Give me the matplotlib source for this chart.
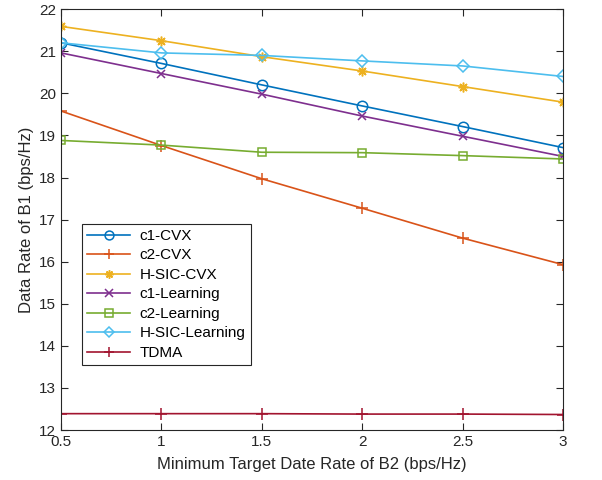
import matplotlib.pyplot as plt

plt.rcParams['font.family'] = ['Liberation Sans', 'DejaVu Sans']

# x values (minimum target data rate of B2)
x = [0.5, 1, 1.5, 2, 2.5, 3]

# data rate of B1 for each scheme
c1_cvx = [21.20, 20.71, 20.20, 19.70, 19.21, 18.71]
c2_cvx = [19.58, 18.76, 17.97, 17.27, 16.56, 15.93]
hsic_cvx = [21.59, 21.25, 20.87, 20.53, 20.16, 19.79]
c1_learn = [20.96, 20.47, 19.98, 19.46, 18.98, 18.50]
c2_learn = [18.88, 18.77, 18.60, 18.59, 18.52, 18.44]
hsic_learn = [21.20, 20.96, 20.90, 20.77, 20.65, 20.40]
tdma = [12.39, 12.39, 12.39, 12.38, 12.38, 12.37]

xticks = [0.5, 1, 1.5, 2, 2.5, 3]
yticks = list(range(12, 23))

fig = plt.figure(figsize=(6.02, 4.8), dpi=100)
ax = fig.add_axes([0.1013, 0.104, 0.834, 0.877])

lw = 1.2
ax.plot(x, c1_cvx, 'o-', color='#0072BD', label='c1-CVX', lw=lw, ms=7.5, mfc='none', mew=1.1)
ax.plot(x, c2_cvx, '+-', color='#D95319', label='c2-CVX', lw=lw, ms=8, mew=1.1)
ax.plot(x, hsic_cvx, '-', marker=(8, 2, 0), color='#EDB120', label='H-SIC-CVX', lw=lw, ms=7, mew=1.1)
ax.plot(x, c1_learn, 'x-', color='#7E2F8E', label='c1-Learning', lw=lw, ms=6, mew=1.1)
ax.plot(x, c2_learn, 's-', color='#77AC30', label='c2-Learning', lw=lw, ms=6, mfc='none', mew=1.1)
ax.plot(x, hsic_learn, 'D-', color='#4DBEEE', label='H-SIC-Learning', lw=lw, ms=6, mfc='none', mew=1.1)
ax.plot(x, tdma, '+-', color='#A2142F', label='TDMA', lw=lw, ms=8, mew=1.1)

ax.set_xlim(0.5, 3)
ax.set_ylim(12, 22)
ax.set_xticks(xticks)
ax.set_xticklabels(['0.5', '1', '1.5', '2', '2.5', '3'])
ax.set_yticks(yticks)
ax.tick_params(direction='in', top=True, right=True, labelsize=11, colors='#262626', length=5)
for s in ax.spines.values():
    s.set_color('#262626')
    s.set_linewidth(0.8)

ax.set_xlabel('Minimum Target Date Rate of B2 (bps/Hz)', fontsize=12, color='#262626', labelpad=6)
ax.set_ylabel('Data Rate of B1 (bps/Hz)', fontsize=12, color='#262626')

leg = ax.legend(loc='lower left', bbox_to_anchor=(0.042, 0.154), borderaxespad=0,
                fontsize=11, fancybox=False, framealpha=1, edgecolor='#262626',
                handlelength=2.8, handletextpad=0.6, labelspacing=0.36, borderpad=0.35,
                markerscale=0.85)
leg.get_frame().set_linewidth(0.8)

plt.savefig('out.png', dpi=100)
